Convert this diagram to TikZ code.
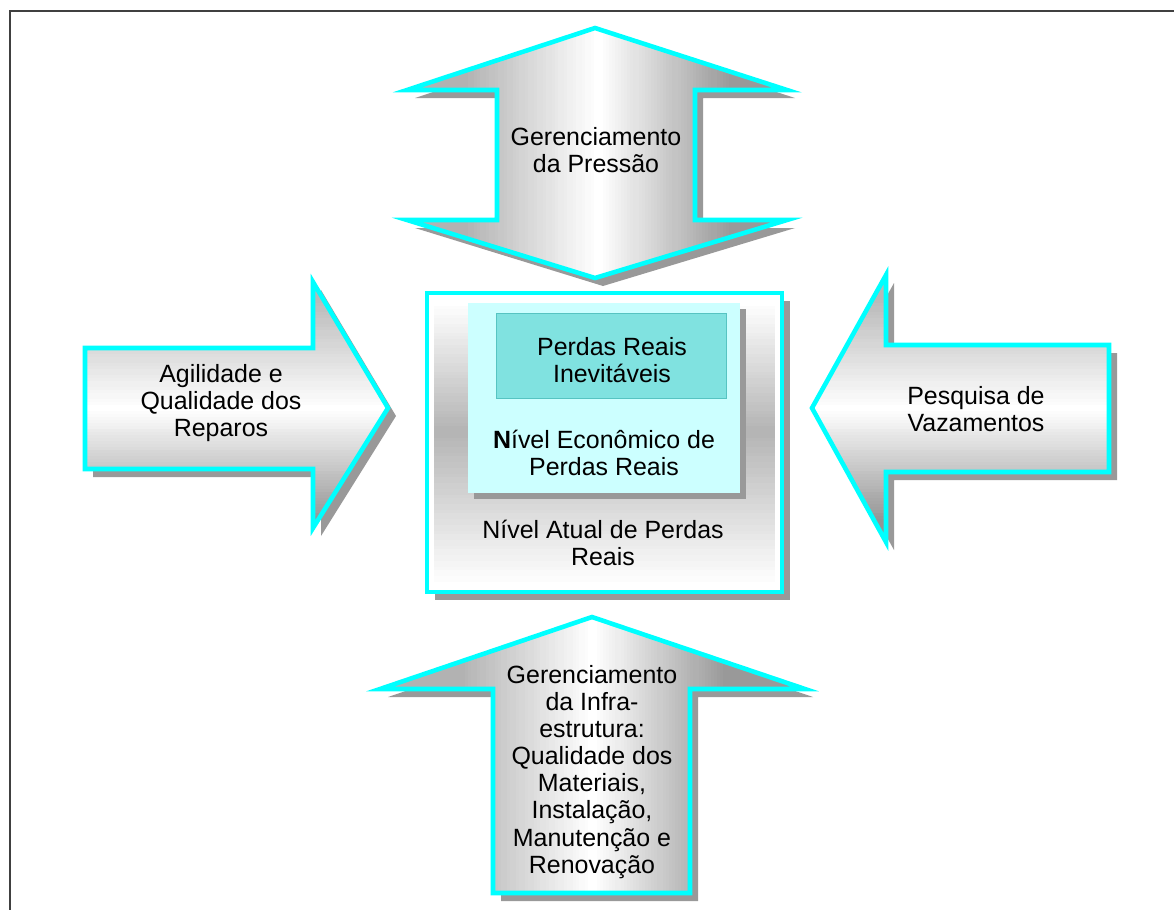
\documentclass[tikz,border=0pt]{standalone}
\usepackage{fontspec}
\setmainfont{Liberation Sans}
\usepackage{xcolor}
\usepackage{tikz}
\definecolor{aqua}{RGB}{0,255,255}
\definecolor{palecyan}{RGB}{204,255,255}
\definecolor{tealfill}{RGB}{128,226,224}
\definecolor{tealedge}{RGB}{86,196,194}
\tikzset{>=latex,
    outline/.style={draw=aqua, line width=2.6pt, line join=miter},
    shadowfill/.style={fill=black!40, shift={(8,8)}}}

% arrow outlines, in pixels
\def\presspath{(595,28) -- (787,90) -- (695,90) -- (695,220) -- (787,220) -- (595,278)
  -- (407,220) -- (497,220) -- (497,90) -- (407,90) -- cycle}
\def\repairpath{(85,348) -- (313,348) -- (313,282) -- (388,408) -- (313,528) -- (313,469)
  -- (85,469) -- cycle}
\def\leakpath{(1109,345) -- (886,345) -- (886,275) -- (812,408) -- (886,542) -- (886,472)
  -- (1109,472) -- cycle}
\def\infrapath{(592,617) -- (805,689) -- (690,689) -- (690,893) -- (493,893) -- (493,689)
  -- (380,689) -- cycle}

\begin{document}
\begin{tikzpicture}[x=0.02cm, y=-0.02cm,
      txt/.style={align=center, font=\fontsize{14.2}{15.4}\selectfont}]
  \useasboundingbox (0,0) rectangle (1174,910);
  \draw[black!75, line width=1.2pt] (10,910) -- (10,11) -- (1174,11);
  % Shadows
  \fill[shadowfill] \presspath;
  \fill[shadowfill] \repairpath;
  \fill[shadowfill] \leakpath;
  \fill[shadowfill] \infrapath;
  \fill[shadowfill] (427,293) rectangle (782,592);
  % Up/down arrows: grey at the sides
  \begin{scope}
    \clip \presspath;
    \foreach \x in {405,408,...,790} {
      \pgfmathtruncatemacro\v{(\x<597) ? 30*min(1,(597-\x)/130) : 40*min(1,(\x-597)/130)}
      \fill[black!\v] (\x,20) rectangle ++(3.6,270);
    }
  \end{scope}
  \begin{scope}
    \clip \infrapath;
    \foreach \x in {378,381,...,808} {
      \pgfmathtruncatemacro\v{(\x<592) ? 30*min(1,(592-\x)/130) : 40*min(1,(\x-592)/130)}
      \fill[black!\v] (\x,610) rectangle ++(3.6,290);
    }
  \end{scope}
  % Side arrows: grey at top and bottom
  \foreach \p/\c in {\repairpath/408, \leakpath/408} {
    \begin{scope}
      \clip \p;
      \foreach \y in {270,273,...,546} {
        \pgfmathtruncatemacro\v{(\y<\c) ? 28*min(1,(\c-\y)/110) : 42*min(1,(\y-\c)/110)}
        \fill[black!\v] (80,\y) rectangle (1115,\y+3.6);
      }
    \end{scope}
  }
  \draw[outline] \presspath;
  \draw[outline] \repairpath;
  \draw[outline] \leakpath;
  \draw[outline] \infrapath;
  % Loss levels
  \draw[outline, fill=white] (427,293) rectangle (782,592);
  \foreach \y in {300,303,...,582} {
    \pgfmathtruncatemacro\v{(\y<430) ? 30*(\y-300)/130 : 30*(585-\y)/155}
    \fill[black!\v] (434,\y) rectangle (775,{min(585,\y+3.6)});
  }
  \fill[black!40] (474,309) rectangle (746,499);
  \fill[palecyan] (468,303) rectangle (740,493);
  \draw[tealedge, fill=tealfill] (496,313) rectangle (726,398);
  % Labels
  \node[txt] (press) at (596,150) {Gerenciamento\\da Pressão};
  \node[txt] (repair) at (221,403) {Agilidade e\\Qualidade dos\\Reparos};
  \node[txt] (leak) at (976,409) {Pesquisa de\\Vazamentos};
  \node[txt] (infra) at (592,772) {Gerenciamento\\da Infra-\\estrutura:\\Qualidade dos\\Materiais,\\Instalação,\\Manutenção e\\Renovação};
  \node[txt] (unavoid) at (612,360) {Perdas Reais\\Inevitáveis};
  \node[txt] (econ) at (604,453) {\textbf{N}ível Econômico de\\Perdas Reais};
  \node[txt] (actual) at (603,543) {Nível Atual de Perdas\\Reais};
\end{tikzpicture}
\end{document}
